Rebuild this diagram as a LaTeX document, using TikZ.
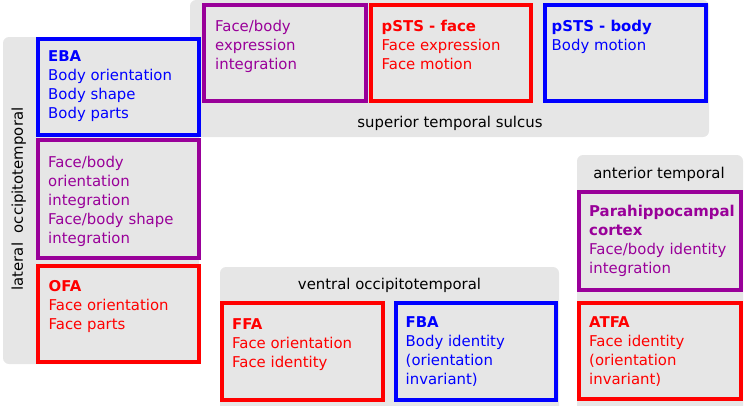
\documentclass[tikz,border=0pt]{standalone}
\usepackage{fontspec}
\setmainfont{DejaVu Sans}
\usetikzlibrary{%
    backgrounds,
    calc,
    positioning
}

\definecolor{areagrey}{HTML}{E6E6E6}
\definecolor{facered}{HTML}{FF0000}
\definecolor{bodyblue}{HTML}{0000FF}
\definecolor{mixpurple}{HTML}{990099}

\tikzset{%
    region/.style={fill=areagrey, rounded corners=6pt},
    region label/.style={font=\fontsize{14.9}{19}\selectfont, text=black, inner sep=0pt},
    area box/.style={draw, line width=4pt, fill=areagrey, anchor=north west,
                     inner sep=0pt, outer sep=0pt},
    area text/.style={font=\fontsize{14.9}{19}\selectfont, align=left,
                      anchor=north west, inner sep=0pt}
}

\begin{document}
\begin{tikzpicture}[x=1pt, y=-1pt]
    \useasboundingbox (0,0) rectangle (745,405);

    \path[region] (3,37)   rectangle (199,364);
    \path[region] (190,0)  rectangle (709,137);
    \path[region] (220,267) rectangle (559,420);
    \path[region] (577,155) rectangle (743,420);

    \node[region label, rotate=90, anchor=base] (lat) at (23,199) {lateral\ \ occipitotemporal};
    \node[region label, anchor=base] (sts) at (450,127.3) {superior temporal sulcus};
    \node[region label, anchor=base] (vot) at (389.5,289.3) {ventral occipitotemporal};
    \node[region label, anchor=base] (ant) at (659,178.7) {anterior temporal};

    \foreach \Name/\X/\Y/\W/\H/\Color in {%
        eba/38/39/161/96/bodyblue,
        fbori/38/140/161/118/mixpurple,
        ofa/38/266/161/96/facered,
        fbexpr/204/5/162/96/mixpurple,
        pstsface/371/5/160/96/facered,
        pstsbody/545/5/161/96/bodyblue,
        ffa/222/303/161/97/facered,
        fba/396/303/160/97/bodyblue,
        para/579/192/162/98/mixpurple,
        atfa/579/303/162/96/facered%
        }
        \node[area box, draw=\Color, minimum width=\W, minimum height=\H] (\Name) at (\X,\Y) {};

    \node[area text, text=bodyblue] (eba-t) at (48,50.8)
        {\textbf{EBA}\\Body orientation\\Body shape\\Body parts};
    \node[area text, text=mixpurple] (fbori-t) at (48,155.5)
        {Face/body\\orientation\\integration\\Face/body shape\\integration};
    \node[area text, text=facered] (ofa-t) at (48.5,279.8)
        {\textbf{OFA}\\Face orientation\\Face parts};
    \node[area text, text=mixpurple] (fbexpr-t) at (215,20.3)
        {Face/body\\expression\\integration};
    \node[area text, text=facered] (pstsface-t) at (381.5,20.3)
        {\textbf{pSTS - face}\\Face expression\\Face motion};
    \node[area text, text=bodyblue] (pstsbody-t) at (551.5,20.3)
        {\textbf{pSTS - body}\\Body motion};
    \node[area text, text=facered] (ffa-t) at (232,318.1)
        {\textbf{FFA}\\Face orientation\\Face identity};
    \node[area text, text=bodyblue] (fba-t) at (405.5,316.6)
        {\textbf{FBA}\\Body identity\\(orientation\\invariant)};
    \node[area text, text=mixpurple] (para-t) at (589,205.3)
        {\textbf{Parahippocampal}\\\textbf{cortex}\\Face/body identity\\integration};
    \node[area text, text=facered] (atfa-t) at (589,316.6)
        {\textbf{ATFA}\\Face identity\\(orientation\\invariant)};
\end{tikzpicture}
\end{document}
